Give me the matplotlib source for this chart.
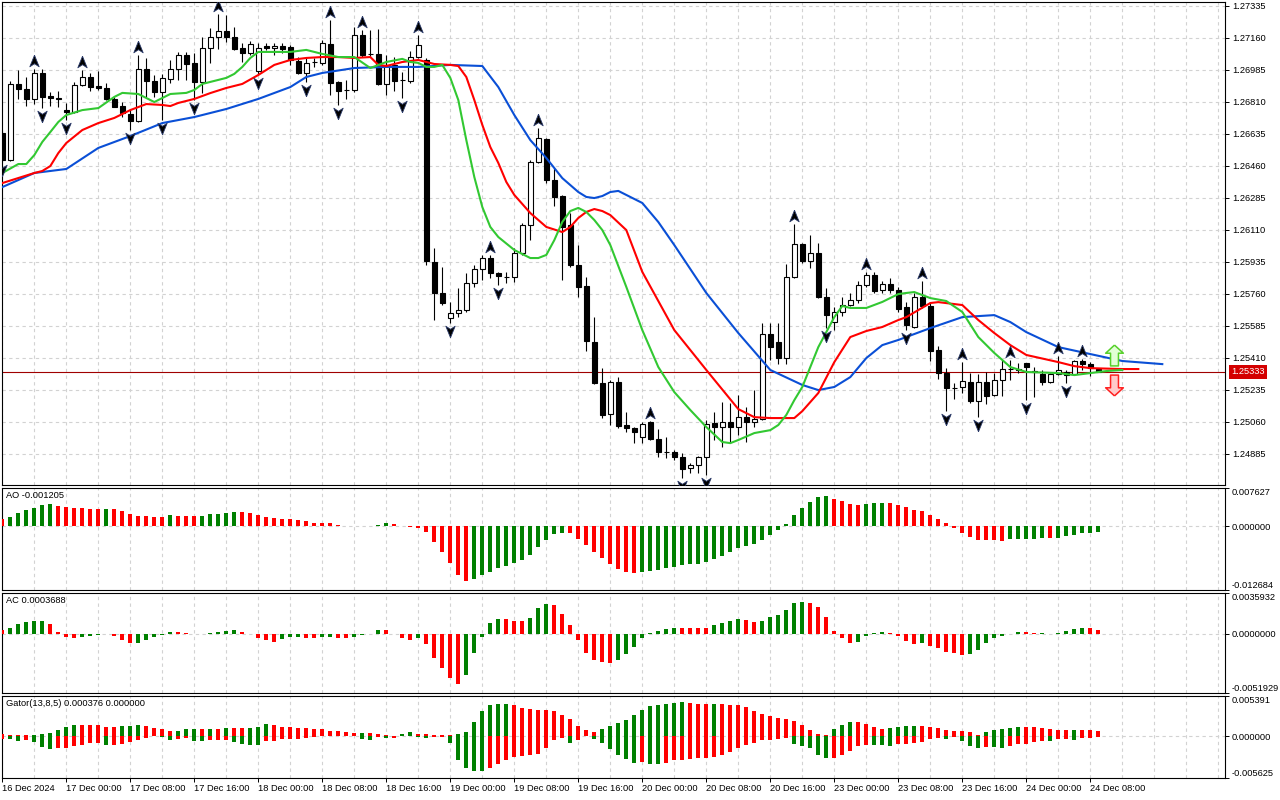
import numpy as np
import matplotlib
matplotlib.use("Agg")
import matplotlib.pyplot as plt
from matplotlib.path import Path
from matplotlib import transforms

# GBPUSD H1, 16 Dec 16:00 .. 24 Dec 08:00 (one entry per bar)
open_ = [
    1.26639, 1.26491, 1.26907, 1.26879, 1.26825, 1.26967, 1.26841, 1.26830, 1.26764, 1.26754,
    1.26901, 1.26945, 1.26896, 1.26885, 1.26825, 1.26786, 1.26743, 1.26704, 1.26989, 1.26923,
    1.26863, 1.26934, 1.26989, 1.27065, 1.27022, 1.26918, 1.27103, 1.27164, 1.27196, 1.27164,
    1.27103, 1.27076, 1.26978, 1.27114, 1.27103, 1.27114, 1.27109, 1.27032, 1.26967, 1.27027,
    1.27022, 1.27125, 1.26918, 1.26874, 1.26874, 1.27175, 1.27071, 1.27071, 1.26907, 1.27011,
    1.26929, 1.26923, 1.27054, 1.27038, 1.25933, 1.25764, 1.25627, 1.25654, 1.25671, 1.25818,
    1.25895, 1.25955, 1.25873, 1.25851, 1.25851, 1.25982, 1.26135, 1.26480, 1.26606, 1.26382,
    1.26294, 1.26135, 1.25917, 1.25802, 1.25496, 1.25271, 1.25102, 1.25277, 1.25042, 1.25025,
    1.24976, 1.25058, 1.24965, 1.24894, 1.24894, 1.24867, 1.24806, 1.24823, 1.24867, 1.25053,
    1.25031, 1.25058, 1.25031, 1.25085, 1.25058, 1.25075, 1.25539, 1.25496, 1.25408, 1.25851,
    1.26032, 1.25939, 1.25982, 1.25742, 1.25605, 1.25660, 1.25698, 1.25725, 1.25807, 1.25862,
    1.25780, 1.25813, 1.25780, 1.25687, 1.25578, 1.25742, 1.25693, 1.25452, 1.25326, 1.25244,
    1.25250, 1.25277, 1.25173, 1.25277, 1.25206, 1.25288, 1.25348, 1.25348, 1.25381, 1.25337,
    1.25321, 1.25277, 1.25321, 1.25332, 1.25321, 1.25392, 1.25375, 1.25348]
high = [
    1.26650, 1.26923, 1.26983, 1.26945, 1.26989, 1.26989, 1.26863, 1.26868, 1.26803, 1.26918,
    1.26983, 1.26967, 1.26978, 1.26912, 1.26836, 1.26808, 1.26764, 1.27065, 1.27049, 1.26956,
    1.26961, 1.27038, 1.27082, 1.27082, 1.27076, 1.27164, 1.27213, 1.27289, 1.27284, 1.27218,
    1.27131, 1.27142, 1.27131, 1.27131, 1.27131, 1.27131, 1.27120, 1.27054, 1.27049, 1.27049,
    1.27147, 1.27257, 1.26922, 1.26929, 1.27218, 1.27202, 1.27202, 1.27207, 1.27065, 1.27054,
    1.26972, 1.27087, 1.27175, 1.27049, 1.26010, 1.25906, 1.25714, 1.25791, 1.25873, 1.25917,
    1.25971, 1.25971, 1.25878, 1.25878, 1.26010, 1.26146, 1.26491, 1.26666, 1.26611, 1.26447,
    1.26300, 1.26201, 1.26026, 1.25851, 1.25632, 1.25353, 1.25288, 1.25304, 1.25113, 1.25031,
    1.25058, 1.25064, 1.25020, 1.24976, 1.24905, 1.24889, 1.24834, 1.24872, 1.25069, 1.25113,
    1.25168, 1.25162, 1.25206, 1.25140, 1.25233, 1.25600, 1.25600, 1.25600, 1.25922, 1.26141,
    1.26037, 1.26081, 1.26037, 1.25791, 1.25687, 1.25742, 1.25764, 1.25829, 1.25878, 1.25878,
    1.25829, 1.25846, 1.25796, 1.25714, 1.25764, 1.25829, 1.25714, 1.25474, 1.25353, 1.25271,
    1.25386, 1.25326, 1.25321, 1.25332, 1.25326, 1.25397, 1.25397, 1.25381, 1.25383, 1.25359,
    1.25343, 1.25326, 1.25419, 1.25343, 1.25397, 1.25403, 1.25386, 1.25353]
low = [
    1.26480, 1.26486, 1.26825, 1.26786, 1.26797, 1.26775, 1.26786, 1.26781, 1.26710, 1.26748,
    1.26896, 1.26868, 1.26874, 1.26819, 1.26781, 1.26726, 1.26655, 1.26700, 1.26836, 1.26836,
    1.26710, 1.26912, 1.26929, 1.26929, 1.26819, 1.26857, 1.27022, 1.27098, 1.27136, 1.27093,
    1.27027, 1.27065, 1.26956, 1.27093, 1.27065, 1.27076, 1.27011, 1.26961, 1.26918, 1.27000,
    1.27011, 1.26847, 1.26792, 1.26825, 1.26863, 1.27054, 1.27054, 1.26901, 1.26847, 1.26868,
    1.26830, 1.26912, 1.27049, 1.25917, 1.25616, 1.25698, 1.25600, 1.25632, 1.25660, 1.25796,
    1.25835, 1.25846, 1.25807, 1.25818, 1.25824, 1.25971, 1.26053, 1.26475, 1.26365, 1.26239,
    1.25835, 1.25906, 1.25742, 1.25446, 1.25266, 1.25080, 1.25042, 1.25025, 1.25003, 1.24943,
    1.24943, 1.24960, 1.24867, 1.24861, 1.24850, 1.24752, 1.24779, 1.24779, 1.24768, 1.24960,
    1.24921, 1.24943, 1.24987, 1.24949, 1.25031, 1.25069, 1.25397, 1.25375, 1.25375, 1.25846,
    1.25928, 1.25900, 1.25736, 1.25572, 1.25561, 1.25638, 1.25693, 1.25709, 1.25796, 1.25764,
    1.25764, 1.25764, 1.25660, 1.25561, 1.25572, 1.25682, 1.25392, 1.25293, 1.25118, 1.25184,
    1.25217, 1.25162, 1.25085, 1.25157, 1.25200, 1.25200, 1.25288, 1.25326, 1.25178, 1.25195,
    1.25261, 1.25271, 1.25315, 1.25271, 1.25315, 1.25343, 1.25310, 1.25332]
close = [
    1.26491, 1.26907, 1.26879, 1.26825, 1.26967, 1.26836, 1.26830, 1.26825, 1.26754, 1.26901,
    1.26945, 1.26890, 1.26885, 1.26825, 1.26781, 1.26748, 1.26704, 1.26989, 1.26923, 1.26863,
    1.26939, 1.26989, 1.27065, 1.27016, 1.26918, 1.27103, 1.27164, 1.27196, 1.27164, 1.27098,
    1.27076, 1.27125, 1.27103, 1.27103, 1.27114, 1.27098, 1.27038, 1.26967, 1.27022, 1.27025,
    1.27131, 1.26912, 1.26868, 1.26872, 1.27175, 1.27065, 1.27069, 1.26907, 1.27011, 1.26923,
    1.26927, 1.27054, 1.27120, 1.25939, 1.25764, 1.25709, 1.25654, 1.25671, 1.25818, 1.25895,
    1.25955, 1.25873, 1.25857, 1.25849, 1.25982, 1.26135, 1.26480, 1.26611, 1.26382, 1.26289,
    1.26125, 1.25917, 1.25796, 1.25501, 1.25271, 1.25096, 1.25277, 1.25036, 1.25025, 1.25003,
    1.25047, 1.24965, 1.24894, 1.24892, 1.24867, 1.24801, 1.24823, 1.24867, 1.25047, 1.25031,
    1.25058, 1.25031, 1.25085, 1.25058, 1.25075, 1.25539, 1.25468, 1.25408, 1.25851, 1.26032,
    1.25939, 1.25982, 1.25742, 1.25643, 1.25660, 1.25698, 1.25725, 1.25807, 1.25862, 1.25775,
    1.25813, 1.25780, 1.25676, 1.25589, 1.25742, 1.25693, 1.25446, 1.25326, 1.25244, 1.25242,
    1.25282, 1.25173, 1.25277, 1.25200, 1.25288, 1.25348, 1.25350, 1.25343, 1.25359, 1.25332,
    1.25277, 1.25321, 1.25343, 1.25315, 1.25392, 1.25375, 1.25353, 1.25333]

time_labels = ["16 Dec 2024", "17 Dec 00:00", "17 Dec 08:00", "17 Dec 16:00", "18 Dec 00:00",
               "18 Dec 08:00", "18 Dec 16:00", "19 Dec 00:00", "19 Dec 08:00", "19 Dec 16:00",
               "20 Dec 00:00", "20 Dec 08:00", "20 Dec 16:00", "23 Dec 00:00", "23 Dec 08:00",
               "23 Dec 16:00", "24 Dec 00:00", "24 Dec 08:00"]

# Alligator (read at selected bars, shifted lines run past the last bar)
jaw_idx = [0, 4, 8, 12, 16, 20, 24, 28, 32, 36, 38, 40, 44, 48, 52, 56, 60, 62, 64, 66,
           68, 70, 72, 73, 74, 75, 76, 77, 80, 82, 84, 88, 92, 96, 100, 102, 104, 106, 108, 110,
           112, 116, 120, 124, 126, 128, 132, 136, 140, 145]
jaw = [1.26343, 1.26420, 1.26442, 1.26557, 1.26622, 1.26693, 1.26726, 1.26770, 1.26825, 1.26890,
       1.26945, 1.26967, 1.26994, 1.27000, 1.27000, 1.27011, 1.27005, 1.26890, 1.26737, 1.26600,
       1.26502, 1.26392, 1.26316, 1.26289, 1.26283, 1.26294, 1.26316, 1.26322, 1.26256, 1.26152,
       1.26026, 1.25764, 1.25545, 1.25343, 1.25261, 1.25233, 1.25250, 1.25304, 1.25408, 1.25479,
       1.25507, 1.25572, 1.25632, 1.25643, 1.25605, 1.25550, 1.25468, 1.25430, 1.25392, 1.25375]
teeth_idx = [0, 4, 5, 6, 7, 8, 10, 12, 14, 16, 18, 20, 21, 22, 24, 26, 28, 30, 32, 34,
             36, 38, 40, 42, 44, 46, 47, 48, 50, 52, 54, 56, 57, 58, 59, 60, 61, 62, 63, 64,
             66, 68, 70, 71, 72, 73, 74, 75, 76, 78, 80, 84, 88, 92, 94, 96, 99, 100, 102, 104,
             106, 108, 110, 112, 113, 116, 117, 120, 122, 124, 126, 128, 132, 134, 136, 140, 142]
teeth = [1.26365, 1.26420, 1.26431, 1.26458, 1.26529, 1.26584, 1.26655, 1.26693, 1.26721, 1.26764,
         1.26797, 1.26792, 1.26786, 1.26803, 1.26825, 1.26857, 1.26885, 1.26907, 1.26956, 1.27011,
         1.27038, 1.27049, 1.27054, 1.27054, 1.27049, 1.27054, 1.27011, 1.27005, 1.27027, 1.27038,
         1.27016, 1.27011, 1.27005, 1.26945, 1.26819, 1.26683, 1.26562, 1.26475, 1.26371, 1.26300,
         1.26201, 1.26125, 1.26097, 1.26125, 1.26174, 1.26207, 1.26223, 1.26212, 1.26190, 1.26108,
         1.25879, 1.25561, 1.25343, 1.25129, 1.25085, 1.25080, 1.25080, 1.25118, 1.25217, 1.25386,
         1.25523, 1.25556, 1.25578, 1.25616, 1.25632, 1.25709, 1.25714, 1.25698, 1.25616, 1.25545,
         1.25479, 1.25425, 1.25386, 1.25364, 1.25353, 1.25348, 1.25348]
lips_idx = [0, 2, 3, 4, 5, 6, 7, 8, 10, 12, 14, 15, 17, 19, 21, 23, 24, 25, 28, 29,
            30, 31, 32, 36, 38, 40, 42, 44, 46, 48, 50, 51, 52, 53, 54, 55, 56, 57, 58, 59,
            60, 61, 62, 64, 66, 67, 68, 69, 70, 71, 72, 73, 74, 75, 76, 78, 80, 82, 84, 86,
            88, 90, 91, 92, 94, 96, 97, 98, 99, 100, 102, 104, 105, 106, 108, 110, 112, 113, 114, 116,
            118, 120, 122, 124, 126, 128, 132, 134, 136, 138, 140]
lips = [1.26420, 1.26469, 1.26469, 1.26518, 1.26590, 1.26644, 1.26699, 1.26737, 1.26764, 1.26775,
        1.26836, 1.26858, 1.26852, 1.26808, 1.26852, 1.26858, 1.26874, 1.26907, 1.26940, 1.26962,
        1.27000, 1.27049, 1.27082, 1.27082, 1.27093, 1.27071, 1.27054, 1.27054, 1.26994, 1.27027,
        1.27044, 1.27027, 1.27022, 1.27000, 1.27000, 1.27011, 1.26940, 1.26819, 1.26600, 1.26398,
        1.26234, 1.26125, 1.26070, 1.25999, 1.25955, 1.25955, 1.25972, 1.26053, 1.26152, 1.26212,
        1.26229, 1.26207, 1.26163, 1.26108, 1.26026, 1.25797, 1.25561, 1.25359, 1.25222, 1.25124,
        1.25031, 1.24949, 1.24943, 1.24960, 1.24998, 1.25014, 1.25042, 1.25097, 1.25178, 1.25250,
        1.25468, 1.25632, 1.25693, 1.25682, 1.25682, 1.25715, 1.25758, 1.25764, 1.25769, 1.25736,
        1.25720, 1.25660, 1.25523, 1.25436, 1.25359, 1.25332, 1.25326, 1.25315, 1.25326, 1.25337,
        1.25343]

up_fractals = [4, 10, 17, 27, 41, 45, 52, 61, 67, 81, 99, 108, 115, 120, 126, 132, 135]
down_fractals = [0, 5, 8, 16, 20, 24, 32, 38, 42, 50, 56, 62, 85, 88, 103, 113, 118, 122, 128, 133]

signal_bar = 139
signal_up_price = 1.25425
signal_down_price = 1.25263

ao = [
    0.00146, 0.00179, 0.00258, 0.00318, 0.00357, 0.00417, 0.00437, 0.00410, 0.00377, 0.00357,
    0.00355, 0.00353, 0.00351, 0.00354, 0.00337, 0.00298, 0.00238, 0.00198, 0.00196, 0.00194,
    0.00192, 0.00218, 0.00215, 0.00213, 0.00211, 0.00215, 0.00238, 0.00240, 0.00258, 0.00278,
    0.00275, 0.00258, 0.00218, 0.00179, 0.00159, 0.00139, 0.00136, 0.00119, 0.00106, 0.00060,
    0.00058, 0.00056, 0.00026, 0.00005, 0.00008, 0.00010, 0.00009, 0.00033, 0.00060, 0.00040,
    0.00007, -0.00013, -0.00033, -0.00119, -0.00311, -0.00509, -0.00728, -0.00979, -0.01085, -0.01045,
    -0.00979, -0.00906, -0.00827, -0.00787, -0.00728, -0.00668, -0.00569, -0.00410, -0.00265, -0.00152,
    -0.00132, -0.00135, -0.00251, -0.00377, -0.00503, -0.00629, -0.00748, -0.00847, -0.00906, -0.00926,
    -0.00913, -0.00887, -0.00867, -0.00827, -0.00801, -0.00774, -0.00754, -0.00741, -0.00708, -0.00648,
    -0.00582, -0.00516, -0.00430, -0.00397, -0.00351, -0.00265, -0.00172, -0.00066, 0.00046, 0.00218,
    0.00357, 0.00483, 0.00582, 0.00595, 0.00543, 0.00496, 0.00443, 0.00417, 0.00450, 0.00463,
    0.00465, 0.00461, 0.00430, 0.00377, 0.00318, 0.00298, 0.00218, 0.00139, 0.00066, -0.00033,
    -0.00132, -0.00218, -0.00265, -0.00266, -0.00267, -0.00284, -0.00251, -0.00245, -0.00244, -0.00243,
    -0.00232, -0.00234, -0.00231, -0.00198, -0.00165, -0.00132, -0.00125, -0.001205]
ac = [
    0.00035, 0.00050, 0.00088, 0.00108, 0.00109, 0.00117, 0.00085, 0.00021, -0.00023, -0.00038,
    -0.00029, -0.00015, -0.00009, -0.00003, -0.00015, -0.00056, -0.00082, -0.00080, -0.00056, -0.00029,
    -0.00012, 0.00021, 0.00018, 0.00012, -0.00001, 0.00003, 0.00012, 0.00021, 0.00029, 0.00038,
    0.00021, 0.00003, -0.00038, -0.00056, -0.00067, -0.00047, -0.00029, -0.00028, -0.00038, -0.00039,
    -0.00029, -0.00023, -0.00038, -0.00039, -0.00023, -0.00012, -0.00003, 0.00038, 0.00036, -0.00002,
    -0.00038, -0.00056, -0.00038, -0.00088, -0.00214, -0.00302, -0.00390, -0.00442, -0.00363, -0.00170,
    -0.00023, 0.00100, 0.00131, 0.00129, 0.00117, 0.00116, 0.00144, 0.00226, 0.00267, 0.00258,
    0.00179, 0.00082, -0.00056, -0.00164, -0.00226, -0.00243, -0.00252, -0.00226, -0.00179, -0.00117,
    -0.00038, 0.00012, 0.00029, 0.00047, 0.00056, 0.00055, 0.00054, 0.00053, 0.00052, 0.00076,
    0.00100, 0.00117, 0.00135, 0.00126, 0.00108, 0.00117, 0.00152, 0.00170, 0.00214, 0.00275,
    0.00284, 0.00275, 0.00240, 0.00152, 0.00029, -0.00038, -0.00082, -0.00073, -0.00020, 0.00009,
    0.00018, 0.00009, -0.00020, -0.00064, -0.00091, -0.00082, -0.00103, -0.00126, -0.00155, -0.00170,
    -0.00187, -0.00179, -0.00144, -0.00082, -0.00038, -0.00020, -0.00003, 0.00021, 0.00020, 0.00009,
    0.00012, -0.00003, 0.00009, 0.00029, 0.00047, 0.00056, 0.00055, 0.0003688]
gator_up = [
    0.00026, 0.00018, 0.00013, 0.00013, 0.00020, 0.00022, 0.00044, 0.00084, 0.00128, 0.00150,
    0.00149, 0.00148, 0.00145, 0.00128, 0.00123, 0.00137, 0.00141, 0.00150, 0.00141, 0.00115,
    0.00101, 0.00070, 0.00071, 0.00097, 0.00098, 0.00096, 0.00097, 0.00095, 0.00110, 0.00109,
    0.00108, 0.00110, 0.00128, 0.00163, 0.00150, 0.00128, 0.00119, 0.00110, 0.00106, 0.00097,
    0.00093, 0.00075, 0.00070, 0.00053, 0.00040, 0.00041, 0.00039, 0.00031, 0.00009, 0.00002,
    0.00022, 0.00053, 0.00031, 0.00030, 0.00018, 0.00017, 0.00009, 0.00022, 0.00053, 0.00185,
    0.00339, 0.00414, 0.00436, 0.00437, 0.00414, 0.00383, 0.00361, 0.00352, 0.00348, 0.00335,
    0.00282, 0.00229, 0.00137, 0.00084, 0.00057, 0.00097, 0.00137, 0.00176, 0.00216, 0.00282,
    0.00348, 0.00401, 0.00414, 0.00427, 0.00441, 0.00454, 0.00440, 0.00438, 0.00427, 0.00429,
    0.00426, 0.00423, 0.00414, 0.00388, 0.00335, 0.00295, 0.00269, 0.00242, 0.00229, 0.00203,
    0.00150, 0.00084, 0.00031, 0.00018, 0.00097, 0.00150, 0.00189, 0.00188, 0.00163, 0.00123,
    0.00097, 0.00110, 0.00123, 0.00137, 0.00138, 0.00136, 0.00123, 0.00110, 0.00084, 0.00070,
    0.00069, 0.00057, 0.00018, 0.00057, 0.00084, 0.00097, 0.00110, 0.00123, 0.00122, 0.00121,
    0.00110, 0.00097, 0.00084, 0.00083, 0.00085, 0.00084, 0.00083, 0.00070]
gator_low = [
    -0.00040, -0.00044, -0.00070, -0.00057, -0.00084, -0.00150, -0.00176, -0.00163, -0.00159, -0.00137,
    -0.00123, -0.00093, -0.00088, -0.00115, -0.00114, -0.00110, -0.00084, -0.00057, -0.00031, -0.00004,
    -0.00013, -0.00048, -0.00044, -0.00026, -0.00070, -0.00071, -0.00057, -0.00056, -0.00055, -0.00079,
    -0.00110, -0.00123, -0.00124, -0.00070, -0.00069, -0.00044, -0.00043, -0.00035, -0.00026, -0.00013,
    -0.00004, -0.00004, -0.00004, -0.00004, -0.00004, -0.00035, -0.00053, -0.00013, -0.00022, -0.00022,
    -0.00004, -0.00004, -0.00013, -0.00026, -0.00013, -0.00013, -0.00088, -0.00322, -0.00423, -0.00463,
    -0.00467, -0.00432, -0.00375, -0.00322, -0.00278, -0.00269, -0.00247, -0.00234, -0.00154, -0.00057,
    -0.00026, -0.00088, -0.00057, -0.00004, -0.00044, -0.00088, -0.00167, -0.00247, -0.00313, -0.00366,
    -0.00352, -0.00379, -0.00380, -0.00366, -0.00326, -0.00325, -0.00313, -0.00300, -0.00299, -0.00286,
    -0.00260, -0.00207, -0.00154, -0.00115, -0.00088, -0.00057, -0.00056, -0.00035, -0.00022, -0.00101,
    -0.00128, -0.00154, -0.00260, -0.00300, -0.00299, -0.00260, -0.00194, -0.00128, -0.00115, -0.00116,
    -0.00117, -0.00128, -0.00101, -0.00100, -0.00088, -0.00075, -0.00035, -0.00022, -0.00035, -0.00013,
    -0.00062, -0.00128, -0.00154, -0.00141, -0.00142, -0.00154, -0.00128, -0.00101, -0.00100, -0.00075,
    -0.00062, -0.00064, -0.00044, -0.00043, -0.00048, -0.00022, -0.00021, -0.00013]

GREEN = '#008000'
RED = '#ff0000'
GRID = dict(color='#d2d2d2', linestyle=(0, (3, 3)), linewidth=0.8)
FS = 6.7
plt.rcParams['font.family'] = ['Liberation Sans', 'DejaVu Sans']

W, H = 1280, 800
fig = plt.figure(figsize=(12.8, 8), dpi=100)
fig.patch.set_facecolor('white')


def panel(top, bottom):
    return fig.add_axes([2 / W, 1 - bottom / H, 1223 / W, (bottom - top) / H])


def trend_colors(vals):
    vals = np.asarray(vals)
    rising = np.r_[False, vals[1:] > vals[:-1]]
    return np.where(rising, GREEN, RED)


ax = panel(2, 485)
ax_ao = panel(488, 590)
ax_ac = panel(593, 693)
ax_gt = panel(696, 778)
all_axes = [ax, ax_ao, ax_ac, ax_gt]

n = len(close)
x = np.arange(n)
xmax = (1225 - 2.3) / 8

for a in all_axes:
    a.set_xlim(-0.04, xmax)
    a.set_xticks(np.arange(0, xmax, 4), minor=True)
    a.set_xticks(np.arange(0, xmax, 4))
    a.grid(True, axis='x', which='both', **GRID)
    a.tick_params(axis='x', which='both', length=0, labelbottom=False)
    a.yaxis.tick_right()
    a.tick_params(axis='y', direction='out', length=3, width=0.7, pad=2,
                  labelsize=FS, colors='black')
    for s in a.spines.values():
        s.set_linewidth(0.8)
        s.set_color('black')
    a.set_axisbelow(True)

# --- main price panel
o, h, l, c = (np.array(v) for v in (open_, high, low, close))
bull = c >= o
ax.vlines(x, l, h, color='black', lw=0.8, zorder=2)
ax.bar(x, np.maximum(np.abs(c - o), 1e-6), bottom=np.minimum(o, c), width=0.6,
       color=np.where(bull, 'white', 'black'), edgecolor='black', linewidth=0.8, zorder=3)

ax.plot(jaw_idx, jaw, color='#0a4fd6', lw=1.5, zorder=4)
ax.plot(teeth_idx, teeth, color='#ff0000', lw=1.5, zorder=4)
ax.plot(lips_idx, lips, color='#32c832', lw=1.5, zorder=4)

ax.axhline(c[-1], color='#a00000', lw=0.8, zorder=1.5)

# fractal arrows, drawn a few pixels off the bar high / low
tip_up = Path([(0, 1), (0.75, -0.85), (0, -0.35), (-0.75, -0.85), (0, 1)])
tip_dn = Path([(0, -1), (0.75, 0.85), (0, 0.35), (-0.75, 0.85), (0, -1)])
above = transforms.offset_copy(ax.transData, fig=fig, y=8, units='dots')
below = transforms.offset_copy(ax.transData, fig=fig, y=-8, units='dots')
ax.plot(up_fractals, h[up_fractals], ls='none', marker=tip_up, ms=9,
        mfc='black', mec='#2a3a6a', mew=0.6, transform=above, zorder=5)
ax.plot(down_fractals, l[down_fractals], ls='none', marker=tip_dn, ms=9,
        mfc='black', mec='#2a3a6a', mew=0.6, transform=below, zorder=5)

block_up = Path([(0, 1), (0.85, 0.22), (0.38, 0.22), (0.38, -1), (-0.38, -1),
                 (-0.38, 0.22), (-0.85, 0.22), (0, 1)])
block_dn = Path([(0, -1), (0.85, -0.22), (0.38, -0.22), (0.38, 1), (-0.38, 1),
                 (-0.38, -0.22), (-0.85, -0.22), (0, -1)])
ax.plot([signal_bar], [signal_up_price], marker=block_up, ms=15, ls='none',
        mfc='#e2ffd6', mec='#56d02a', mew=1.1, zorder=6)
ax.plot([signal_bar], [signal_down_price], marker=block_dn, ms=15, ls='none',
        mfc='#ffcaca', mec='#ff2020', mew=1.1, zorder=6)

ax.set_ylim(1.24714, 1.27355)
price_ticks = np.round(1.27335 - 0.00175 * np.arange(15), 5)
ax.set_yticks(price_ticks)
ax.set_yticklabels([f'{p:.5f}' for p in price_ticks])
ax.grid(True, axis='y', **GRID)

lbl_tr = transforms.offset_copy(
    transforms.blended_transform_factory(ax.transAxes, ax.transData), fig=fig, x=6, units='dots')
ax.text(1.0, c[-1], f'{c[-1]:.5f}', transform=lbl_tr, fontsize=FS, color='white',
        va='center', ha='left', zorder=10, clip_on=False,
        bbox=dict(boxstyle='square,pad=0.25', fc='#d40000', ec='none'))

# --- oscillators
ax_ao.bar(x, ao, width=0.5, color=trend_colors(ao), zorder=3)
ax_ac.bar(x, ac, width=0.5, color=trend_colors(ac), zorder=3)
ax_gt.bar(x, gator_up, width=0.5, color=trend_colors(gator_up), zorder=3)
ax_gt.bar(x, gator_low, width=0.5, color=trend_colors(np.abs(gator_low)), zorder=3)

scales = [
    (ax_ao, -0.012684, 0.007627, '{:.6f}', f'AO {ao[-1]:.6f}'),
    (ax_ac, -0.0051929, 0.0035932, '{:.7f}', f'AC {ac[-1]:.7f}'),
    (ax_gt, -0.005625, 0.005391, '{:.6f}', 'Gator(13,8,5) 0.000376 0.000000'),
]
for a, lo, hi, fmt, title in scales:
    a.set_ylim(lo, hi)
    a.set_yticks([lo, 0.0, hi])
    a.set_yticklabels([fmt.format(lo), fmt.format(0.0), fmt.format(hi)])
    labels = a.get_yticklabels()
    labels[0].set_va('bottom')
    labels[2].set_va('top')
    a.axhline(0, zorder=1, **GRID)
    a.text(0, 1, title, transform=transforms.offset_copy(a.transAxes, fig=fig, x=4, y=-3, units='dots'),
           fontsize=FS, va='top', ha='left')

# time axis under the last panel
ax_gt.set_xticks(np.arange(0, n, 8))
ax_gt.set_xticklabels(time_labels)
ax_gt.tick_params(axis='x', which='major', length=3, width=0.7, pad=1.5,
                  labelbottom=True, labelsize=FS, direction='out')
for t in ax_gt.get_xticklabels():
    t.set_horizontalalignment('left')

fig.savefig('out.png', dpi=100, facecolor='white')
